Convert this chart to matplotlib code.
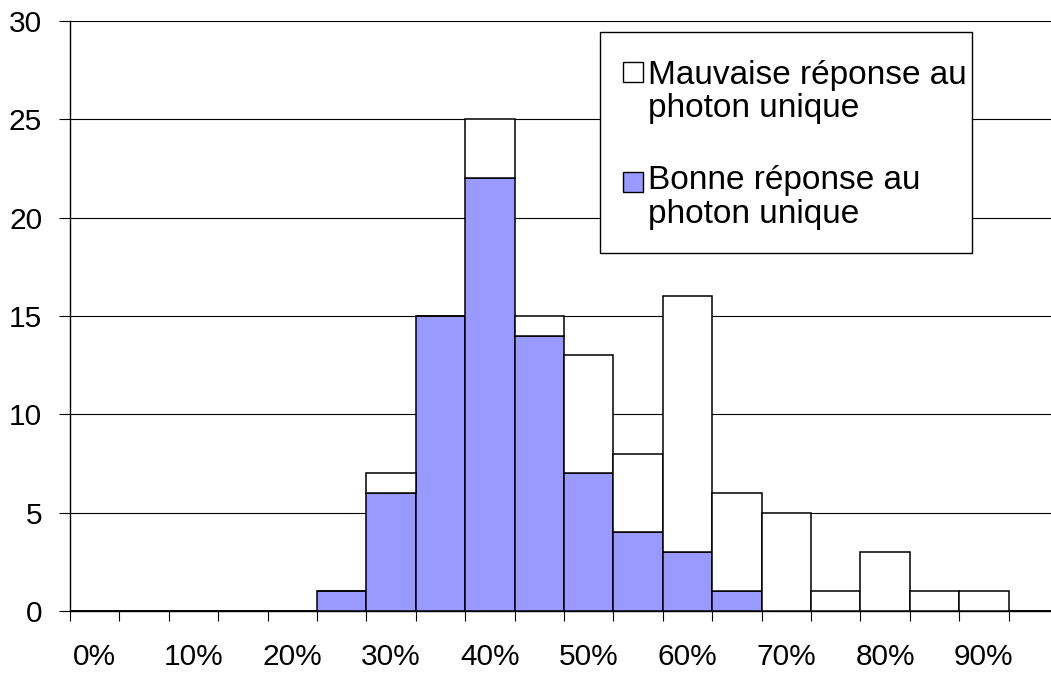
import matplotlib
matplotlib.use("Agg")
import matplotlib.pyplot as plt
from matplotlib.patches import Rectangle
import numpy as np

plt.rcParams["font.family"] = ["Liberation Sans", "DejaVu Sans"]

# 5% bins, 0% .. 95%
bin_labels = ["0%", "5%", "10%", "15%", "20%", "25%", "30%", "35%", "40%", "45%",
              "50%", "55%", "60%", "65%", "70%", "75%", "80%", "85%", "90%", "95%"]
bonne = [0, 0, 0, 0, 0, 1, 6, 15, 22, 14, 7, 4, 3, 1, 0, 0, 0, 0, 0, 0]
mauvaise = [0, 0, 0, 0, 0, 0, 1, 0, 3, 1, 6, 4, 13, 5, 5, 1, 3, 1, 1, 0]
y_ticks = [0, 5, 10, 15, 20, 25, 30]

BLUE = "#9999FF"
W, H = 1051, 673
TICK_FS = 21.5
LEGEND_FS = 24

fig = plt.figure(figsize=(W / 100, H / 100), dpi=100)
ax = fig.add_axes([70 / W, 62 / H, 988 / W, 590 / H])

x = np.arange(len(bin_labels))
ax.bar(x, bonne, width=1.0, color=BLUE, edgecolor="black", linewidth=1.1, zorder=3)
ax.bar(x, mauvaise, width=1.0, bottom=bonne, color="white", edgecolor="black",
       linewidth=1.1, zorder=3)

ax.set_xlim(-0.5, len(bin_labels) - 0.5)
ax.set_ylim(0, 30)
ax.set_yticks(y_ticks)
ax.set_yticklabels([str(v) for v in y_ticks], fontsize=TICK_FS)
ax.yaxis.grid(True, color="black", linewidth=0.8, zorder=0)
ax.set_axisbelow(True)

# tick marks on bin boundaries, labels under every other bin
ax.set_xticks(np.arange(len(bin_labels)) - 0.5)
ax.set_xticklabels([])
ax.set_xticks(x[::2], minor=True)
ax.set_xticklabels(bin_labels[::2], minor=True, fontsize=TICK_FS)
ax.tick_params(axis="x", which="major", direction="out", length=7, width=0.8)
ax.tick_params(axis="x", which="minor", length=0, pad=23)
ax.tick_params(axis="y", direction="out", length=8, width=0.8, pad=12)

for side in ("top", "right"):
    ax.spines[side].set_visible(False)
for side in ("left", "bottom"):
    ax.spines[side].set_linewidth(1.0)

# legend box, drawn like the Excel one (markers aligned with first line)
fig.patches.append(Rectangle((600 / W, 1 - 253 / H), 372 / W, 221 / H,
                             transform=fig.transFigure, facecolor="white",
                             edgecolor="black", linewidth=1.0, zorder=5))
entries = [
    ("white", ["Mauvaise réponse au", "photon unique"], 62, (84, 117)),
    (BLUE, ["Bonne réponse au", "photon unique"], 172, (189, 223)),
]
for color, lines, sq_top, baselines in entries:
    fig.patches.append(Rectangle((623 / W, 1 - (sq_top + 20) / H), 20 / W, 20 / H,
                                 transform=fig.transFigure, facecolor=color,
                                 edgecolor="black", linewidth=1.0, zorder=6))
    for line, base in zip(lines, baselines):
        fig.text(648 / W, 1 - base / H, line, fontsize=LEGEND_FS, va="baseline",
                 ha="left", zorder=7)

fig.savefig("out.png", dpi=100)
